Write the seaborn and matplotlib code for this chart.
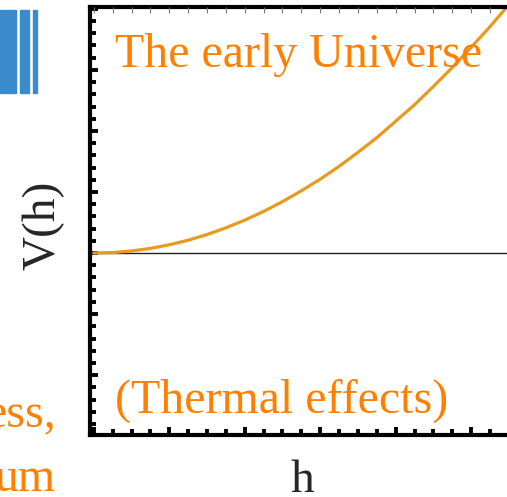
import matplotlib
matplotlib.use('Agg')
from matplotlib import pyplot as plt
from matplotlib.patches import Rectangle
from matplotlib.ticker import MultipleLocator
import pandas as pd
import seaborn as sns

# potential
h = [0, 0.25, 0.5, 0.75, 1.0, 1.25, 1.5, 1.75, 2.0, 2.25, 2.5, 2.75,
     3.0, 3.25, 3.5, 3.75, 4.0, 4.25, 4.5, 4.75, 5.0, 5.25, 5.5]
V = [0, 0.008, 0.034, 0.076, 0.135, 0.21, 0.303, 0.413, 0.539, 0.682, 0.842, 1.02,
     1.21, 1.42, 1.65, 1.89, 2.16, 2.43, 2.73, 3.04, 3.37, 3.71, 4.07]
title_top = 'The early Universe'
title_bottom = '(Thermal effects)'
xlabel = 'h'
ylabel = 'V(h)'
# fragments of the neighbouring panel
left_words = ['ess,', 'um']

sns.set_style('white')
plt.rcParams['font.family'] = ['Liberation Serif', 'DejaVu Serif']

W, H = 507, 497
fig = plt.figure(figsize=(W / 100, H / 100), dpi=100)
ax = fig.add_axes([90 / W, (H - 435) / H, (515 - 90) / W, (435 - 7) / H])

df = pd.DataFrame({'h': h, 'V': V})
ax.axhline(0, color='#222222', lw=1.0, zorder=1)
sns.lineplot(data=df, x='h', y='V', ax=ax, color='#E69A1F', lw=2.3, zorder=2)

ax.set_xlim(-0.05, 5.58)
ax.set_ylim(-2.98, 4.03)
ax.set_xlabel('')
ax.set_ylabel('')

for s in ['left', 'bottom', 'top']:
    ax.spines[s].set_linewidth(3.0)
    ax.spines[s].set_color('black')
ax.spines['right'].set_visible(False)

ax.xaxis.set_major_locator(MultipleLocator(1))
ax.xaxis.set_minor_locator(MultipleLocator(0.25))
ax.yaxis.set_major_locator(MultipleLocator(1))
ax.yaxis.set_minor_locator(MultipleLocator(0.2))
ax.tick_params(which='both', direction='in', color='black', width=2.8,
               labelbottom=False, labelleft=False, bottom=True, left=True,
               top=False, right=False)
ax.tick_params(which='major', length=6)
ax.tick_params(which='minor', length=4)

# thin grey ticks along the top edge
ax2 = ax.twiny()
ax2.set_xlim(ax.get_xlim())
ax2.xaxis.set_major_locator(MultipleLocator(0.25))
ax2.tick_params(axis='x', direction='in', color='#777777', width=0.8, length=4,
                labeltop=False, top=True)
for s in ax2.spines.values():
    s.set_visible(False)

orange = '#FF8000'
fig.text(115 / W, 1 - 67 / H, title_top, color=orange, fontsize=34.5, va='baseline', ha='left')
fig.text(115 / W, 1 - 413 / H, title_bottom, color=orange, fontsize=34.5, va='baseline', ha='left')
fig.text(302 / W, 1 - 492 / H, xlabel, fontsize=34, va='baseline', ha='center')
fig.text(43 / W, 1 - 225 / H, ylabel, fontsize=34, rotation=90, va='center', ha='center')

fig.text(56 / W, 1 - 427 / H, left_words[0], color=orange, fontsize=34.5, va='baseline', ha='right')
fig.text(56 / W, 1 - 491 / H, left_words[1], color=orange, fontsize=34.5, va='baseline', ha='right')

for x0, x1 in [(0, 16), (20, 29), (33, 37)]:
    fig.patches.append(Rectangle((x0 / W, 1 - 93 / H), (x1 - x0) / W, 83 / H,
                                 transform=fig.transFigure, color='#3A8BCB'))

fig.savefig('out.png', dpi=100)
